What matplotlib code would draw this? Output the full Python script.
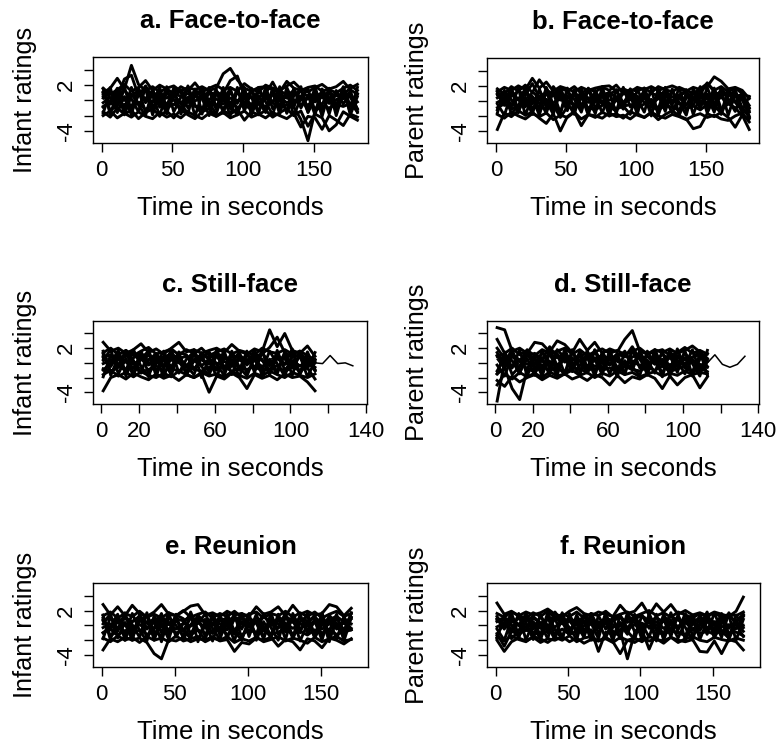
import numpy as np
import matplotlib
matplotlib.use("Agg")
import matplotlib.pyplot as plt

plt.rcParams["font.family"] = ["Liberation Sans", "DejaVu Sans"]

# sample times (seconds)
time_f2f = list(range(1, 182, 5))      # face-to-face, 37 samples
time_sf = list(range(1, 114, 4))       # still-face, 29 samples
time_sf_long = list(range(1, 134, 4))  # the one longer still-face episode
time_re = list(range(1, 172, 5))       # reunion, 35 samples

# a. infant ratings, face-to-face
infant_f2f = [
    [1.0, 1.6, 2.9, 1.5, 4.6, 2.1, 1.3, 1.8, 1.1, 1.6, 1.9, 1.2, 1.7, 1.4, 1.8, 1.3, 1.6, 3.5, 4.2, 2.7,
     1.6, 1.2, 1.7, 1.8, 1.4, 1.1, 2.5, 1.6, 1.3, 1.7, 1.9, 1.2, 1.5, 1.8, 2.5, 1.4, 0.8],
    [0.5, 0.9, 0.2, 2.8, 3.3, 0.6, 1.9, 0.4, 0.8, 0.3, 1.0, 0.5, 0.9, 0.6, 0.2, 1.1, 0.7, 0.9, 2.6, 3.2,
     0.6, 1.0, 0.4, 0.9, 2.4, 0.7, 0.3, 0.8, 1.2, 0.5, 0.9, 0.4, 1.0, 0.6, 0.8, 1.6, 2.1],
    [-0.3, 0.4, -0.6, 0.2, 0.8, -0.4, 0.3, -0.2, 0.5, -0.5, 0.1, -0.3, 0.4, -0.1, 0.6, -0.4, 0.2, -0.5, 0.3, 0.0,
     -0.2, 0.5, -0.4, 0.2, -0.1, 0.4, -0.3, 0.1, -0.6, 0.3, -0.2, 0.5, -0.4, 0.1, 0.6, -0.5, 0.9],
    [-0.8, -0.2, -1.1, -0.5, -0.9, -0.3, -1.2, -0.6, -0.4, -1.0, -0.5, -0.9, -0.2, -0.8, -1.1, -0.4, -0.7, -1.0, -0.3, -0.9,
     -0.6, -1.2, -0.5, -0.8, -0.3, -1.0, -0.6, -0.9, -2.5, -5.3, -1.4, -0.7, -1.0, -0.5, -0.8, -0.4, -1.5],
    [-1.5, -2.2, -1.0, -1.8, -1.3, -2.4, -1.6, -1.1, -2.0, -1.4, -2.3, -1.2, -1.9, -2.4, -1.5, -1.1, -2.1, -1.4, -1.8, -1.2,
     -2.6, -1.5, -1.9, -1.3, -2.2, -1.6, -1.1, -2.0, -1.4, -3.4, -1.8, -2.3, -4.0, -3.2, -1.5, -2.1, -2.6],
    [1.6, 0.8, 1.4, 2.1, 1.2, 1.7, 2.6, 1.3, 2.0, 1.5, 0.9, 1.8, 1.3, 2.3, 1.1, 1.6, 2.0, 1.4, 1.7, 1.2,
     2.2, 1.5, 1.1, 2.0, 1.6, 1.3, 1.9, 2.4, 1.5, 1.1, 1.7, 2.1, 1.4, 1.0, 1.6, 2.0, 1.3],
    [-2.0, -1.4, -2.3, -1.7, -2.2, -1.5, -2.1, -2.4, -1.6, -2.2, -1.8, -2.3, -1.5, -2.0, -2.4, -1.7, -2.1, -1.6, -2.3, -1.9,
     -1.4, -2.2, -1.8, -2.3, -1.6, -2.0, -2.4, -1.7, -3.5, -2.1, -2.3, -3.8, -2.0, -2.6, -3.3, -1.8, -2.2],
    [0.8, -0.5, 1.2, 0.1, -0.8, 1.0, 0.2, 1.3, -0.3, 0.9, 0.4, 1.4, -0.2, 0.7, 1.1, 0.0, 1.2, 0.5, -0.4, 1.0,
     0.3, -0.6, 1.1, 0.4, 0.8, -0.1, 0.6, 1.3, 0.2, -0.7, 0.5, 1.0, -0.3, 0.8, 0.2, 1.2, -1.2],
    [1.5, -1.8, 0.9, -1.2, 1.7, -0.6, -2.0, 1.4, -0.9, 1.8, -1.5, 0.4, 1.6, -2.1, 0.8, -1.0, 1.5, -1.7, 1.2, -0.4,
     1.7, -1.9, 0.6, -1.3, 1.6, -0.8, 1.1, -2.0, 0.3, 1.5, -1.4, 0.9, -1.8, 1.3, -0.5, 1.0, -1.6],
    [-1.7, 1.2, -0.4, 1.8, -1.5, 0.7, 1.5, -1.9, 1.0, -0.7, 1.6, -1.8, 0.2, 1.3, -1.4, 1.7, -0.8, 0.5, -2.0, 1.4,
     -0.9, 1.6, -1.6, 0.8, -0.3, 1.8, -1.7, 0.6, 1.4, -1.2, 1.0, -2.1, 1.2, -0.6, 1.7, -1.9, 0.5],
    [0.3, 1.7, -1.6, 0.5, -1.9, 1.6, -0.3, 0.8, -2.1, 1.2, 0.1, -1.4, 1.9, -0.6, -1.8, 1.3, -1.2, 1.7, -0.7, -1.9,
     1.0, 0.4, -1.7, 1.8, -1.1, 0.2, -1.5, 1.6, -1.0, 0.7, -1.9, 1.5, 0.0, -1.3, 1.8, -0.8, -0.2],
    [-0.9, -0.1, 1.6, -1.9, 0.6, 1.3, -1.5, -0.2, 1.7, -1.3, 0.9, -0.5, -1.7, 1.5, 0.3, -2.0, 0.9, -0.1, 1.6, -1.6,
     0.5, -1.1, 1.7, -0.2, -1.9, 1.3, 0.7, -0.9, 1.8, -1.6, 0.3, -0.6, 1.6, -2.0, 1.1, 0.4, -1.1],
    [1.1, -1.3, -0.7, 1.4, 0.2, -1.5, 1.8, -1.2, 0.4, -1.8, 1.5, 1.0, -1.0, 0.5, 1.6, -0.3, -1.8, 1.0, -1.1, 1.7,
     -1.4, 1.3, -0.1, -1.6, 1.1, -1.8, 1.7, -0.4, 0.6, -1.5, 1.8, -1.3, 0.4, -0.9, 1.2, -1.6, 1.7],
]

# b. parent ratings, face-to-face
parent_f2f = [
    [1.2, 1.8, 1.4, 2.0, 1.5, 3.0, 1.7, 2.5, 1.3, 1.9, 1.6, 1.2, 1.8, 1.4, 1.7, 1.9, 2.0, 1.3, 1.6, 1.2,
     1.8, 1.5, 1.9, 1.4, 1.7, 2.0, 1.6, 1.3, 1.8, 1.5, 1.9, 3.2, 2.6, 1.6, 1.8, 1.4, 0.3],
    [0.4, 1.0, 0.6, 1.3, 0.8, 2.3, 0.5, 1.1, 0.7, 1.0, 0.3, 0.9, 0.6, 1.2, 0.4, 0.8, 1.1, 0.5, 0.9, 1.2,
     0.6, 0.3, 1.0, 0.7, 1.3, 0.5, 0.8, 1.1, 0.4, 0.9, 2.4, 1.2, 0.7, 1.0, 0.5, 0.9, -0.6],
    [-0.2, 0.3, -0.5, 0.4, -0.1, 0.5, -0.4, 0.2, -0.3, 0.6, 0.0, -0.5, 0.3, -0.2, 0.5, -0.4, 0.1, 0.4, -0.3, 0.2,
     -0.1, 0.5, -0.4, 0.3, 0.0, -0.3, 0.4, -0.5, 0.2, -0.1, 0.3, -0.2, 0.5, -0.4, 0.6, 0.1, -1.5],
    [-0.9, -0.4, -1.1, -0.6, -0.3, -1.0, -0.7, -1.2, -0.5, -2.2, -0.8, -1.0, -0.4, -0.9, -1.2, -0.6, -0.3, -1.1, -0.7, -0.5,
     -1.0, -0.4, -0.8, -1.2, -0.6, -0.9, -0.3, -1.0, -0.7, -1.2, -0.5, -0.8, -1.1, -0.4, -0.9, -2.0, -2.4],
    [-3.8, -1.6, -2.1, -1.3, -1.9, -1.5, -2.3, -3.0, -1.7, -4.0, -2.1, -1.4, -3.3, -1.8, -2.2, -1.5, -2.0, -1.7, -2.3, -1.4,
     -1.9, -2.2, -1.6, -2.5, -1.8, -1.3, -2.0, -2.4, -3.7, -3.4, -1.7, -2.1, -1.5, -2.2, -3.5, -1.9, -3.8],
    [1.6, 0.9, 1.9, 1.3, 2.1, 1.1, 2.8, 1.5, 0.8, 1.7, 1.3, 1.9, 1.0, 1.6, 1.2, 1.8, 1.4, 2.1, 1.0, 1.5,
     1.3, 1.7, 1.1, 1.9, 1.5, 1.2, 1.8, 1.4, 1.0, 1.6, 2.3, 1.4, 1.9, 1.2, 1.7, 1.0, 0.5],
    [-1.8, -2.3, -1.5, -2.0, -2.4, -1.7, -2.1, -1.6, -2.5, -1.9, -2.2, -1.5, -2.4, -1.8, -2.0, -2.3, -1.6, -2.1, -1.9, -2.4,
     -1.7, -2.2, -1.5, -2.0, -2.3, -1.8, -2.1, -2.5, -2.0, -1.7, -2.2, -1.9, -2.4, -2.6, -2.0, -1.6, -2.8],
    [0.9, -0.6, 1.1, 0.2, -0.8, 1.2, 0.4, -0.4, 1.0, 0.1, 0.7, -0.7, 1.2, 0.3, 0.8, -0.2, 1.1, 0.5, -0.5, 0.9,
     0.2, 1.2, -0.3, 0.6, 1.0, 0.0, 0.8, -0.6, 1.1, 0.3, 0.9, -0.4, 0.7, 1.2, -0.1, 0.6, -0.9],
    [-1.6, 1.4, -0.8, 1.7, -1.9, 0.6, -1.2, 1.8, -0.5, -1.7, 1.3, 0.2, -1.5, 1.6, -1.0, 0.8, -2.0, 1.5, -0.3, 1.1,
     -1.8, 1.7, -0.6, 0.9, -1.4, 1.6, -1.9, 0.4, 1.2, -1.1, 1.8, -0.7, -1.6, 1.5, -0.2, -1.3, 0.6],
    [1.3, -0.2, 1.8, -1.4, 0.5, -1.8, 1.6, -0.9, 1.1, -1.6, 1.7, -1.2, 0.7, -1.9, 1.4, -0.4, 1.2, -1.7, 1.8, -0.8,
     0.3, -1.5, 1.6, -1.9, 0.8, -0.5, 1.7, -1.3, 0.1, 1.9, -1.0, 1.1, -1.8, 0.6, 1.4, -0.9, -2.2],
    [-0.4, -1.9, 0.9, 0.1, 1.6, -1.1, 0.3, -1.7, 1.9, 0.6, -1.3, 1.5, -0.6, 0.4, -1.7, 1.9, -1.3, 0.2, -1.1, 1.6,
     -0.7, 0.8, -2.0, 1.4, 0.2, -1.6, 0.6, 1.5, -1.8, 0.7, -0.4, 1.7, -1.1, -0.3, 1.3, -1.7, -1.0],
    [0.8, 1.1, -1.7, -0.6, 1.2, 0.4, -1.9, 1.3, -1.4, 1.0, -0.2, -1.8, 1.6, -1.3, 0.6, -1.6, 0.9, 1.4, -0.7, -1.8,
     1.5, -0.3, 0.2, -1.1, 1.8, -0.8, -1.3, 1.0, -0.6, 1.3, -1.6, 0.4, 1.4, -1.9, 0.9, 0.3, -2.0],
    [-1.2, 0.5, 0.2, -1.6, 1.7, -0.4, 1.3, 0.0, -1.8, 1.8, -0.7, 0.9, -1.0, 1.7, -0.2, 1.0, -0.7, -1.4, 1.5, 0.4,
     -1.2, 1.1, -1.7, 1.6, -0.6, 1.3, -0.2, -1.9, 1.6, -0.5, 0.6, -1.5, 1.8, 0.2, -1.4, 1.1, -1.3],
]

# c. infant ratings, still-face
infant_sf = [
    [2.8, 1.6, 2.0, 1.3, 1.8, 2.6, 1.4, 1.9, 1.2, 2.0, 2.8, 1.5, 1.8, 1.3, 1.7, 2.0, 1.4, 2.5, 1.6, 1.2,
     1.9, 1.5, 4.5, 2.2, 4.0, 1.7, 1.3, 2.3, 0.9],
    [0.7, 1.1, 0.4, 0.9, 1.3, 0.5, 1.0, 0.3, 0.8, 1.2, 0.6, 0.9, 0.4, 1.1, 0.7, 1.3, 0.5, 0.8, 1.0, 0.4,
     0.9, 1.2, 2.1, 3.5, 1.4, 0.8, 1.1, 0.6, 0.0],
    [-0.1, 0.4, -0.4, 0.3, -0.2, 0.5, -0.3, 0.2, -0.5, 0.4, 0.0, -0.3, 0.3, -0.4, 0.5, -0.1, 0.2, -0.4, 0.4, -0.2,
     0.3, -0.5, 0.1, 0.6, -0.2, 0.3, -0.4, 0.2, -1.0],
    [-0.8, -1.2, -0.5, -1.0, -0.6, -1.3, -0.9, -0.4, -1.1, -0.7, -1.2, -0.5, -0.9, -1.1, -0.6, -1.0, -0.4, -1.2, -0.7, -0.9,
     -0.5, -1.1, -0.8, -0.4, -1.2, -0.6, -1.0, -0.7, -2.2],
    [-3.8, -2.0, -1.6, -2.2, -1.4, -1.9, -2.3, -1.5, -2.1, -1.7, -2.4, -1.6, -2.0, -1.5, -4.0, -1.8, -2.2, -1.4, -2.0, -3.5,
     -1.6, -2.1, -1.7, -2.3, -1.5, -2.0, -1.8, -2.6, -3.8],
    [1.4, 2.0, 1.1, 1.7, 1.0, 1.6, 2.1, 1.2, 1.5, 1.9, 1.1, 1.8, 1.3, 2.0, 1.0, 1.5, 1.9, 1.2, 1.7, 1.4,
     1.1, 2.0, 1.5, 1.3, 1.8, 1.2, 1.6, 1.0, 0.4],
    [-1.6, -1.0, -1.8, -1.3, -1.9, -1.2, -1.7, -2.0, -1.4, -1.9, -1.1, -1.6, -2.0, -1.3, -1.8, -1.5, -1.9, -1.2, -1.7, -2.1,
     -1.4, -1.8, -1.1, -1.6, -2.0, -1.3, -1.7, -2.0, -1.5],
    [0.9, -0.5, 1.2, 0.1, -0.7, 1.0, 0.3, 1.3, -0.4, 0.8, 0.2, -0.6, 1.1, 0.4, -0.2, 0.9, 1.2, -0.5, 0.6, 0.0,
     1.1, 0.3, -0.4, 0.9, 0.5, -0.3, 1.0, 0.2, -0.6],
    [1.6, -1.7, 0.8, -1.1, 1.8, -0.5, -1.9, 1.3, -0.8, 1.9, -1.4, 0.5, 1.5, -2.0, 0.7, -0.9, 1.6, -1.6, 1.1, -0.3,
     1.8, -1.8, 0.5, -1.2, 1.5, -0.7, 1.0, -1.9, 0.2],
    [-1.9, 1.1, -0.3, 1.7, -1.4, 0.6, 1.6, -1.8, 0.9, -0.6, 1.5, -1.7, 0.3, 1.2, -1.3, 1.8, -0.7, 0.4, -1.9, 1.3,
     -0.8, 1.7, -1.5, 0.7, -0.2, 1.9, -1.6, 0.5, -1.1],
    [0.4, 1.8, -1.5, 0.6, -1.8, 1.5, -0.2, 0.9, -2.0, 1.1, 0.2, -1.3, 1.8, -0.5, -1.7, 1.2, -1.1, 1.6, -0.6, -1.8,
     0.9, 0.5, -1.6, 1.7, -1.0, 0.3, -1.4, 1.5, -0.9],
    [-1.0, 0.0, 1.7, -1.8, 0.7, 1.2, -1.4, -0.1, 1.6, -1.2, 0.8, -0.4, -1.6, 1.4, 0.4, -1.9, 0.8, 0.0, 1.5, -1.5,
     0.6, -1.0, 1.6, -0.1, -1.8, 1.2, 0.8, -0.8, 1.4],
    [1.2, -1.2, -0.6, 1.5, 0.3, -1.4, 1.7, -1.1, 0.5, -1.7, 1.4, 1.1, -0.9, 0.6, 1.5, -0.2, -1.7, 1.1, -1.0, 1.6,
     -1.3, 1.4, 0.0, -1.5, 1.2, -1.7, 1.6, -0.3, 0.5],
]
infant_sf_long = [0.2, 0.8, -0.6, 1.4, 0.3, -0.9, 0.6, -0.2, 1.0, -0.5, 0.4, 1.1, -0.7, 0.5, -0.1, 0.8, -0.6,
                  0.3, 1.2, -0.3, 0.6, -0.8, 0.4, 1.0, -0.1, 0.7, -0.5, 0.5, 0.0, -0.1, 1.0, -0.1, 0.0, -0.4]

# d. parent ratings, still-face
parent_sf = [
    [4.8, 4.5, 1.6, 2.0, 1.3, 2.8, 2.6, 1.5, 3.0, 2.5, 1.4, 3.2, 1.7, 2.8, 1.3, 1.9, 1.5, 3.2, 4.4, 1.6,
     1.2, 1.8, 1.4, 1.9, 1.3, 1.7, 2.3, 1.5, 0.6],
    [2.0, 0.6, 1.1, 0.4, 0.9, 1.3, 0.5, 2.2, 0.7, 1.2, 0.3, 0.9, 1.4, 0.6, 1.0, 0.4, 1.2, 0.8, 2.2, 0.5,
     0.9, 0.3, 1.1, 0.6, 1.0, 0.4, 0.8, 1.1, 0.2],
    [-5.2, 0.3, -0.5, 0.4, -0.2, 0.5, -0.4, 0.2, -0.3, 0.6, -0.1, 0.3, -0.5, 0.4, 0.0, -0.3, 0.5, -0.2, 0.3, -0.4,
     0.2, -0.1, 0.5, -0.3, 0.3, -0.4, 0.2, -0.2, -0.6],
    [-1.5, -0.7, -3.5, -5.0, -0.8, -1.2, -0.5, -1.0, -0.7, -1.3, -0.6, -0.9, -1.2, -0.4, -1.0, -0.7, -1.3, -0.5, -0.9, -1.1,
     -0.6, -1.0, -0.4, -1.2, -0.8, -0.5, -1.1, -0.7, -1.2],
    [-2.4, -3.2, -1.8, -2.6, -2.0, -1.6, -2.3, -1.7, -2.1, -1.5, -2.2, -1.8, -2.4, -1.6, -2.0, -3.0, -1.7, -2.7, -1.9, -2.2,
     -1.6, -2.1, -3.5, -1.8, -3.0, -2.0, -1.6, -3.4, -1.9],
    [3.2, 1.3, 2.0, 1.1, 1.7, 1.0, 1.8, 1.3, 1.6, 2.0, 1.2, 1.8, 1.0, 1.5, 1.9, 1.3, 1.7, 1.1, 1.6, 2.0,
     1.2, 1.5, 1.8, 1.0, 1.4, 2.1, 1.3, 1.7, 1.2],
    [-3.0, -1.5, -2.2, -1.3, -1.9, -1.4, -2.0, -1.2, -1.8, -1.5, -1.0, -1.7, -1.3, -2.0, -1.4, -1.8, -1.1, -1.6, -1.3, -1.9,
     -1.5, -1.2, -1.8, -1.4, -1.7, -1.1, -1.6, -1.3, -1.5],
    [1.0, -0.6, 1.3, 0.2, -0.8, 0.9, 0.4, -0.5, 1.2, 0.1, 0.7, -0.4, 1.1, 0.3, -0.7, 1.0, 0.2, -0.3, 0.8, 1.2,
     -0.2, 0.6, 0.0, 1.1, -0.5, 0.7, 0.3, -0.6, 0.5],
    [-1.5, 1.5, -0.7, 1.8, -1.8, 0.7, -1.1, 1.9, -0.4, -1.6, 1.4, 0.3, -1.4, 1.7, -0.9, 0.9, -1.9, 1.6, -0.2, 1.2,
     -1.7, 1.8, -0.5, 1.0, -1.3, 1.7, -1.8, 0.5, 1.3],
    [1.4, -0.1, 1.9, -1.3, 0.6, -1.7, 1.7, -0.8, 1.2, -1.5, 1.8, -1.1, 0.8, -1.8, 1.5, -0.3, 1.3, -1.6, 1.9, -0.7,
     0.4, -1.4, 1.7, -1.8, 0.9, -0.4, 1.8, -1.2, 0.2],
    [-0.3, -1.8, 1.0, 0.2, 1.7, -1.0, 0.4, -1.6, 1.8, 0.7, -1.2, 1.6, -0.5, 0.5, -1.6, 1.8, -1.2, 0.3, -1.0, 1.7,
     -0.6, 0.9, -1.9, 1.5, 0.3, -1.5, 0.7, 1.6, -1.7],
    [0.9, 1.2, -1.6, -0.5, 1.3, 0.5, -1.8, 1.4, -1.3, 1.1, -0.1, -1.7, 1.7, -1.2, 0.7, -1.5, 1.0, 1.5, -0.6, -1.7,
     1.6, -0.2, 0.3, -1.0, 1.9, -0.7, -1.2, 1.1, -0.5],
    [-1.1, 0.6, 0.3, -1.5, 1.8, -0.3, 1.4, 0.1, -1.7, 1.9, -0.6, 1.0, -0.9, 1.8, -0.1, 1.1, -0.6, -1.3, 1.6, 0.5,
     -1.1, 1.2, -1.6, 1.7, -0.5, 1.4, -0.1, -1.8, 1.7],
]
parent_sf_long = [0.5, -0.9, 0.8, -0.3, 1.1, -0.6, 0.4, 1.0, -0.4, 0.6, -0.8, 0.3, 0.9, -0.5, 0.7, 0.1, -0.7,
                  1.2, 0.2, -0.4, 0.8, -0.2, 0.5, -0.6, 0.9, 0.0, 0.6, -0.4, 0.0, 1.1, -0.2, -0.6, -0.2, 0.9]

# e. infant ratings, reunion
infant_re = [
    [2.8, 1.4, 2.5, 1.3, 2.7, 1.6, 1.2, 1.8, 2.8, 1.5, 1.3, 1.9, 2.6, 2.8, 1.4, 1.7, 1.2, 1.9, 1.4, 1.6,
     1.2, 2.5, 1.5, 1.8, 2.5, 1.3, 2.7, 1.5, 1.9, 1.4, 1.6, 2.8, 2.5, 1.3, 2.3],
    [0.6, 1.0, 0.3, 0.9, 0.5, 1.2, 0.4, 0.8, 1.1, 0.3, 0.9, 0.6, 1.2, 0.5, 0.8, 0.3, 1.0, 0.6, 1.1, 0.4,
     0.9, 0.5, 1.2, 0.3, 0.8, 1.0, 0.4, 0.9, 0.6, 1.1, 0.3, 0.8, 1.2, 0.5, 0.9],
    [-0.3, 0.2, -0.6, 0.3, -0.4, 0.1, -0.5, 0.4, -0.2, 0.2, -0.5, 0.3, -0.1, 0.4, -0.4, 0.1, -0.3, 0.3, -0.6, 0.2,
     -0.2, 0.4, -0.5, 0.1, -0.3, 0.3, -0.4, 0.2, -0.1, 0.4, -0.5, 0.2, -0.2, 0.3, -0.4],
    [-1.0, -0.5, -1.3, -0.7, -1.1, -0.6, -1.2, -0.8, -1.4, -0.5, -1.0, -0.7, -1.3, -0.6, -1.1, -0.9, -0.5, -1.2, -0.8, -1.3,
     -0.6, -1.0, -0.7, -1.2, -0.9, -0.5, -1.1, -0.8, -1.3, -0.6, -1.0, -0.7, -1.2, -0.9, -0.6],
    [-3.3, -1.8, -2.2, -1.6, -2.0, -1.7, -2.3, -3.8, -4.5, -1.9, -2.1, -1.6, -2.2, -1.8, -2.0, -1.5, -2.1, -1.9, -3.5, -2.3,
     -2.5, -1.7, -2.0, -1.6, -2.8, -1.9, -2.2, -3.3, -1.8, -2.1, -3.0, -1.7, -2.0, -2.5, -1.8],
    [1.3, 1.8, 1.0, 1.6, 1.2, 1.9, 1.1, 1.5, 1.0, 1.7, 1.3, 2.0, 1.1, 1.5, 1.8, 1.0, 1.6, 1.2, 1.9, 1.1,
     1.5, 1.8, 1.0, 1.6, 1.3, 1.9, 1.1, 1.7, 1.2, 1.8, 1.0, 1.5, 1.9, 1.2, 1.6],
    [-1.7, -2.2, -1.4, -2.0, -1.6, -2.3, -1.5, -2.0, -1.7, -2.2, -1.4, -2.1, -1.8, -1.5, -2.2, -1.7, -2.0, -1.5, -2.3, -1.8,
     -2.1, -1.6, -2.2, -1.9, -1.5, -2.1, -1.7, -2.0, -2.4, -1.6, -2.2, -1.8, -1.5, -2.1, -1.9],
    [0.8, -0.6, 1.1, 0.0, -0.8, 0.9, 0.3, -0.5, 1.2, 0.1, 0.7, -0.7, 1.0, 0.4, -0.3, 1.1, 0.2, -0.6, 0.8, 1.2,
     -0.2, 0.5, -0.7, 0.9, 0.2, -0.4, 1.0, 0.3, -0.6, 0.8, 0.0, 1.1, -0.5, 0.6, 0.2],
    [1.4, -1.9, 1.0, -1.3, 1.6, -0.7, -2.1, 1.3, -1.0, 1.7, -1.6, 0.3, 1.5, -2.2, 0.7, -1.1, 1.4, -1.8, 1.1, -0.5,
     1.6, -2.0, 0.5, -1.4, 1.5, -0.9, 1.0, -2.1, 0.2, 1.4, -1.5, 0.8, -1.9, 1.2, -0.6],
    [-1.8, 1.1, -0.5, 1.7, -1.6, 0.6, 1.4, -2.0, 0.9, -0.8, 1.5, -1.9, 0.1, 1.2, -1.5, 1.6, -0.9, 0.4, -2.1, 1.3,
     -1.0, 1.5, -1.7, 0.7, -0.4, 1.7, -1.8, 0.5, 1.3, -1.3, 0.9, -2.2, 1.1, -0.7, 1.6],
    [0.2, 1.6, -1.7, 0.4, -2.0, 1.5, -0.4, 0.7, -2.2, 1.1, 0.0, -1.5, 1.8, -0.7, -1.9, 1.2, -1.3, 1.6, -0.8, -2.0,
     0.9, 0.3, -1.8, 1.7, -1.2, 0.1, -1.6, 1.5, -1.1, 0.6, -2.0, 1.4, -0.1, -1.4, 1.7],
    [-1.0, -0.2, 1.5, -2.0, 0.5, 1.2, -1.6, -0.3, 1.6, -1.4, 0.8, -0.6, -1.8, 1.4, 0.2, -2.1, 0.8, -0.2, 1.5, -1.7,
     0.4, -1.2, 1.6, -0.3, -2.0, 1.2, 0.6, -1.0, 1.7, -1.7, 0.2, -0.7, 1.5, -2.1, 1.0],
    [1.0, -1.4, -0.8, 1.3, 0.1, -1.6, 1.7, -1.3, 0.3, -1.9, 1.4, 0.9, -1.1, 0.4, 1.5, -0.4, -1.9, 0.9, -1.2, 1.6,
     -1.5, 1.2, -0.2, -1.7, 1.0, -1.9, 1.6, -0.5, 0.5, -1.6, 1.7, -1.4, 0.3, -1.0, 1.1],
]

# f. parent ratings, reunion
parent_re = [
    [3.0, 1.5, 1.9, 1.3, 1.8, 1.4, 1.7, 2.2, 1.5, 1.2, 1.9, 2.4, 1.6, 1.3, 1.8, 1.5, 1.2, 2.7, 1.6, 1.9,
     3.0, 1.4, 2.9, 1.8, 2.8, 1.5, 2.0, 1.4, 1.7, 1.3, 1.8, 1.5, 1.2, 1.9, 3.8],
    [0.5, 1.0, 0.4, 0.9, 0.6, 1.2, 0.3, 0.8, 1.1, 0.5, 0.9, 0.4, 1.2, 0.7, 0.3, 1.0, 0.6, 1.1, 0.4, 0.9,
     1.3, 0.6, 1.0, 0.5, 1.2, 0.7, 0.3, 0.9, 0.5, 1.0, 0.4, 0.8, 1.1, 0.6, 1.5],
    [-0.2, 0.3, -0.5, 0.2, -0.3, 0.4, -0.4, 0.1, -0.2, 0.4, -0.5, 0.2, -0.1, 0.3, -0.4, 0.2, -0.3, 0.4, -0.6, 0.1,
     0.3, -0.2, 0.5, -0.4, 0.2, -0.1, 0.4, -0.5, 0.2, -0.3, 0.3, -0.2, 0.1, -0.4, 0.0],
    [-1.1, -2.8, -0.8, -1.2, -0.6, -1.0, -1.3, -0.7, -1.1, -0.5, -1.2, -0.8, -1.0, -0.6, -3.5, -0.9, -1.2, -0.7, -4.5, -1.0,
     -0.6, -3.2, -0.9, -1.2, -0.7, -1.0, -1.3, -0.6, -1.1, -0.8, -1.2, -0.7, -1.0, -0.9, -1.4],
    [-2.0, -3.5, -2.2, -1.7, -2.1, -1.6, -2.3, -1.8, -2.0, -1.5, -2.2, -1.7, -2.4, -1.9, -2.1, -1.6, -2.2, -3.8, -2.0, -2.3,
     -1.7, -2.1, -1.8, -2.4, -1.6, -2.0, -2.2, -1.9, -3.5, -3.6, -2.1, -3.8, -1.9, -2.2, -3.3],
    [1.6, 1.1, 1.8, 1.3, 1.0, 1.7, 1.2, 1.9, 1.0, 1.5, 1.2, 1.8, 1.0, 1.6, 1.3, 1.9, 1.1, 1.5, 1.8, 1.2,
     1.6, 2.0, 1.3, 1.7, 1.1, 1.8, 1.4, 1.0, 1.6, 1.2, 1.7, 1.1, 1.5, 1.3, 1.8],
    [-1.6, -2.1, -1.4, -1.9, -2.2, -1.5, -1.8, -2.3, -1.6, -2.0, -1.4, -2.2, -1.7, -1.5, -2.1, -1.8, -2.3, -1.6, -2.0, -1.7,
     -2.2, -1.5, -1.9, -2.1, -1.6, -2.3, -1.8, -1.5, -2.0, -2.2, -1.6, -1.9, -2.1, -1.7, -2.0],
    [0.9, -0.5, 1.2, 0.0, -0.7, 1.0, 0.3, -0.4, 1.1, 0.2, 0.6, -0.6, 1.2, 0.4, -0.2, 0.9, 0.1, -0.7, 0.8, 1.1,
     -0.3, 0.5, -0.5, 1.0, 0.2, -0.4, 0.9, 0.3, -0.6, 0.7, 0.0, 1.1, -0.4, 0.5, -0.8],
    [-1.7, 1.3, -0.9, 1.6, -2.0, 0.5, -1.3, 1.7, -0.6, -1.8, 1.2, 0.1, -1.6, 1.5, -1.1, 0.7, -2.1, 1.4, -0.4, 1.0,
     -1.9, 1.6, -0.7, 0.8, -1.5, 1.5, -2.0, 0.3, 1.1, -1.2, 1.7, -0.8, -1.7, 1.4, -0.3],
    [1.2, -0.3, 1.7, -1.5, 0.4, -1.9, 1.5, -1.0, 1.0, -1.7, 1.6, -1.3, 0.6, -2.0, 1.3, -0.5, 1.1, -1.8, 1.7, -0.9,
     0.2, -1.6, 1.5, -2.0, 0.7, -0.6, 1.6, -1.4, 0.0, 1.8, -1.1, 1.0, -1.9, 0.5, 1.3],
    [-0.5, -2.0, 0.8, 0.0, 1.5, -1.2, 0.2, -1.8, 1.8, 0.5, -1.4, 1.4, -0.7, 0.3, -1.8, 1.8, -1.4, 0.1, -1.2, 1.5,
     -0.8, 0.7, -2.1, 1.3, 0.1, -1.7, 0.5, 1.4, -1.9, 0.6, -0.5, 1.6, -1.2, -0.4, 1.2],
    [0.7, 1.0, -1.8, -0.7, 1.1, 0.3, -2.0, 1.2, -1.5, 0.9, -0.3, -1.9, 1.5, -1.4, 0.5, -1.7, 0.8, 1.3, -0.8, -1.9,
     1.4, -0.4, 0.1, -1.2, 1.7, -0.9, -1.4, 0.9, -0.7, 1.2, -1.7, 0.3, 1.3, -2.0, 0.8],
    [-1.3, 0.4, 0.1, -1.7, 1.6, -0.5, 1.2, -0.1, -1.9, 1.7, -0.8, 0.8, -1.1, 1.6, -0.3, 0.9, -0.8, -1.5, 1.4, 0.3,
     -1.3, 1.0, -1.8, 1.5, -0.7, 1.2, -0.3, -2.0, 1.5, -0.6, 0.5, -1.6, 1.7, 0.1, -1.5],
]

fig = plt.figure(figsize=(7.76, 7.52), dpi=100)
W, H = 776, 752

panels = [
    # title, ylabel, times, series, extra (times, values), axes box px (x0, y0, x1, y1), xlim, xticks
    ("a. Face-to-face", "Infant ratings", time_f2f, infant_f2f, None, (93, 57, 368, 143), (-6.2, 188.5), "long"),
    ("b. Face-to-face", "Parent ratings", time_f2f, parent_f2f, None, (487, 58, 759, 143), (-6.4, 188.0), "long"),
    ("c. Still-face", "Infant ratings", time_sf, infant_sf, (time_sf_long, infant_sf_long), (93, 321, 367, 404), (-4.4, 140.5), "short"),
    ("d. Still-face", "Parent ratings", time_sf, parent_sf, (time_sf_long, parent_sf_long), (487, 321, 759, 404), (-4.4, 140.5), "short"),
    ("e. Reunion", "Infant ratings", time_re, infant_re, None, (93, 583, 368, 667), (-5.9, 182.5), "long"),
    ("f. Reunion", "Parent ratings", time_re, parent_re, None, (487, 583, 760, 667), (-5.9, 182.5), "long"),
]

for title, ylab, t, series, extra, box, xlim, kind in panels:
    x0, y0, x1, y1 = box
    ax = fig.add_axes([x0 / W, 1 - y1 / H, (x1 - x0) / W, (y1 - y0) / H])
    for s in series:
        ax.plot(t, s, color="black", lw=2.1)
    if extra is not None:
        ax.plot(extra[0], extra[1], color="black", lw=1.1)
    ax.set_xlim(*xlim)
    ax.set_ylim(-5.6, 5.7)
    ax.set_yticks([4, 2, 0, -2, -4])
    ax.set_yticklabels(["", "2", "", "", "-4"], rotation=90, va="center")
    if kind == "long":
        ax.set_xticks([0, 50, 100, 150])
        ax.set_xticklabels(["0", "50", "100", "150"])
    else:
        ax.set_xticks([0, 20, 40, 60, 80, 100, 120, 140])
        ax.set_xticklabels(["0", "20", "", "60", "", "100", "", "140"])
    ax.tick_params(direction="out", length=6.5, width=1.0, labelsize=16)
    ax.tick_params(axis="x", pad=6)
    ax.tick_params(axis="y", pad=5)
    for sp in ax.spines.values():
        sp.set_linewidth(1.0)
    cx = (x0 + x1) / 2
    fig.text(cx / W, 1 - (y0 - 36) / H, title, ha="center", va="center",
             fontsize=18.5, fontweight="bold")
    fig.text(cx / W, 1 - (y1 + 65) / H, "Time in seconds", ha="center", va="center", fontsize=18.5)
    lx = 25 if x0 < 300 else 417
    fig.text(lx / W, 1 - ((y0 + y1) / 2) / H, ylab, ha="center", va="center",
             rotation=90, fontsize=18.2)

fig.savefig("out.png", dpi=100)
